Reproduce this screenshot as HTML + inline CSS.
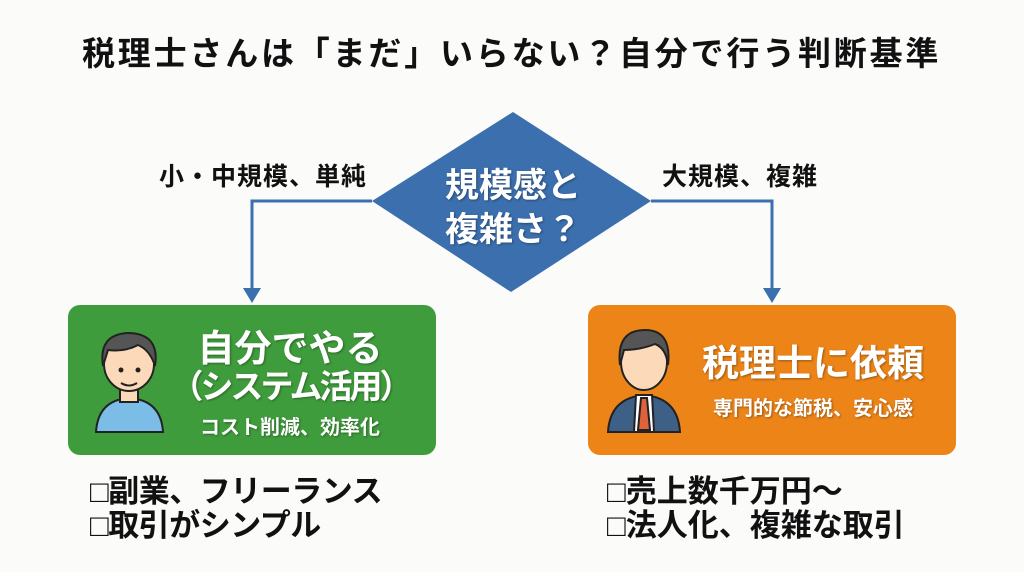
<!DOCTYPE html>
<html><head><meta charset="utf-8"><style>
body{margin:0;width:1024px;height:572px;background:#fbfbfa;position:relative;overflow:hidden;font-family:"Liberation Sans","Noto Sans CJK JP",sans-serif;font-weight:bold}
.t{position:absolute;white-space:nowrap;line-height:1}
.box{position:absolute;border-radius:12px}
.w{color:#fff;text-shadow:1px 1px 2px rgba(0,0,0,.35)}
</style></head><body>
<div class="t" style="left:82px;top:37px;font-size:33px;color:#111;letter-spacing:2.8px">税理士さんは「まだ」いらない？自分で行う判断基準</div>
<svg width="1024" height="572" style="position:absolute;left:0;top:0">
<polygon points="513,112 651,201 511,292 372,201" fill="#3b6fad"/>
<polyline points="372,201 252,201 252,292" fill="none" stroke="#3b6fad" stroke-width="3"/>
<polygon points="243,288 261,288 252,303" fill="#3b6fad"/>
<polyline points="651,201 772,201 772,292" fill="none" stroke="#3b6fad" stroke-width="3"/>
<polygon points="763,288 781,288 772,303" fill="#3b6fad"/>
</svg>
<div class="t w" style="left:439px;top:164px;font-size:34px;width:148px;text-align:center;line-height:44px">規模感と<br>複雑さ？</div>
<div class="t" style="left:159px;top:165px;font-size:25px;color:#111;letter-spacing:1px">小・中規模、単純</div>
<div class="t" style="left:662px;top:165px;font-size:25px;color:#111;letter-spacing:1px">大規模、複雑</div>
<div class="box" style="left:68px;top:305px;width:368px;height:150px;background:#3f9c3c"></div>
<div class="box" style="left:588px;top:305px;width:368px;height:150px;background:#ec8418"></div>
<svg width="1024" height="572" style="position:absolute;left:0;top:0">
<g stroke="#222" stroke-width="2">
<path d="M96,432 Q98,400 129,398 Q161,400 163,432 Z" fill="#7bbde6"/>
<rect x="120" y="384" width="18" height="18" fill="#fcd9b8"/>
<ellipse cx="129" cy="364" rx="25" ry="27" fill="#fcd9b8"/>
<path d="M103,366 Q98,334 129,333 Q160,334 155,366 Q150,350 138,345 Q125,352 108,350 Z" fill="#555"/>
</g>
<circle cx="121" cy="370" r="2.5" fill="#222"/><circle cx="138" cy="370" r="2.5" fill="#222"/>
<path d="M121,383 Q129,388 137,383" stroke="#222" stroke-width="2" fill="none"/>
<g stroke="#222" stroke-width="2">
<path d="M608,432 Q610,398 644,395 Q678,398 680,432 Z" fill="#3e5f86"/>
<polygon points="636,395 652,395 654,432 634,432" fill="#fff"/>
<polygon points="641,398 647,398 650,430 638,430" fill="#e0623a"/>
<ellipse cx="644" cy="362" rx="23" ry="28" fill="#fcd9b8"/>
<path d="M620,365 Q616,330 645,330 Q672,330 668,365 Q666,348 655,344 Q640,350 624,350 Z" fill="#555"/>
</g>
</svg>
<div class="t w" style="left:190px;top:330px;width:200px;text-align:center;font-size:37px">自分でやる</div>
<div class="t w" style="left:160px;top:370px;width:260px;text-align:center;font-size:33px;letter-spacing:-3px">（システム活用）</div>
<div class="t w" style="left:180px;top:418px;width:220px;text-align:center;font-size:20px">コスト削減、効率化</div>
<div class="t w" style="left:696px;top:345px;width:234px;text-align:center;font-size:37px">税理士に依頼</div>
<div class="t w" style="left:696px;top:399px;width:234px;text-align:center;font-size:20px">専門的な節税、安心感</div>
<div class="t" style="left:90px;top:475px;font-size:31px;color:#111;line-height:34px;letter-spacing:-0.5px">□副業、フリーランス<br>□取引がシンプル</div>
<div class="t" style="left:607px;top:475px;font-size:31px;color:#111;line-height:34px">□売上数千万円～<br>□法人化、複雑な取引</div>
</body></html>
